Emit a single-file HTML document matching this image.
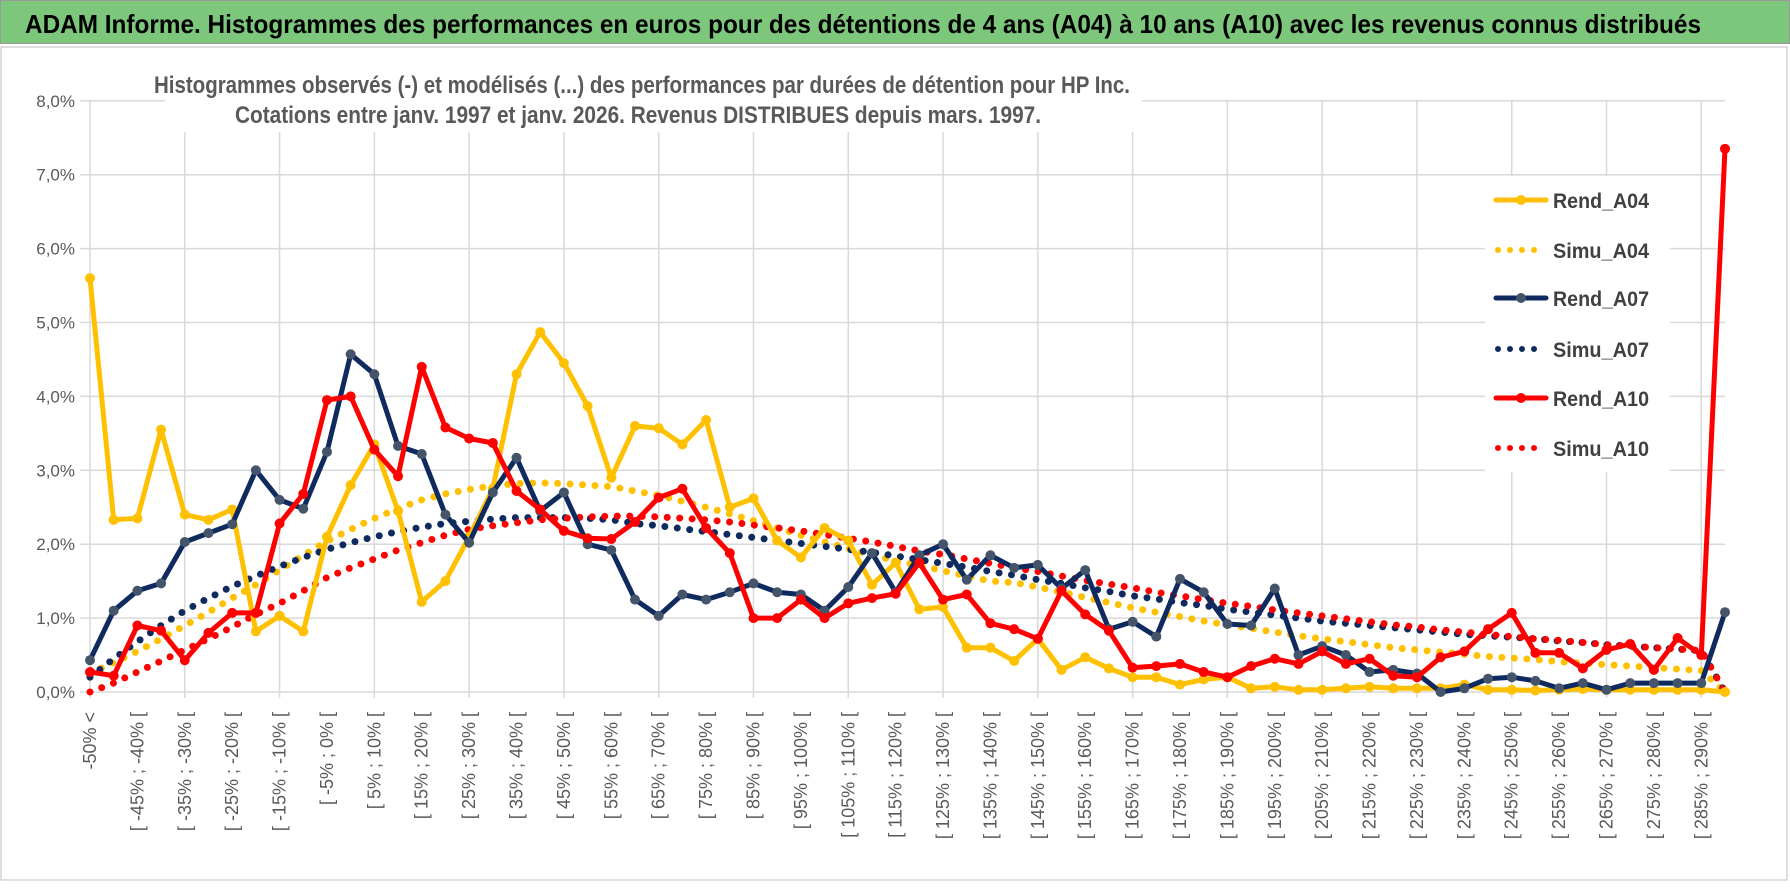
<!DOCTYPE html>
<html><head><meta charset="utf-8"><style>
html,body{margin:0;padding:0;background:#fff;}
svg{display:block;font-family:"Liberation Sans",sans-serif;}
</style></head><body>
<svg id="chart" width="1790" height="888" viewBox="0 0 1790 888">
<rect x="0" y="0" width="1790" height="888" fill="#fff"/>
<rect x="0.5" y="0.5" width="1789" height="43" fill="#7dc77d" stroke="#999"/>
<text x="25" y="33" font-size="26" font-weight="bold" fill="#000" textLength="1676" lengthAdjust="spacingAndGlyphs">ADAM Informe. Histogrammes des performances en euros pour des détentions de 4 ans (A04) à 10 ans (A10) avec les revenus connus distribués</text>
<rect x="1" y="47" width="1786" height="833" fill="none" stroke="#bfbfbf"/>
<g id="grid"></g>
<g id="yaxis"></g>
<g id="xaxis"></g>
<rect x="165" y="66" width="977" height="66" fill="#fff"/>
<text x="154" y="93" font-size="24" font-weight="bold" fill="#595959" textLength="976" lengthAdjust="spacingAndGlyphs">Histogrammes observés (-) et modélisés (...) des performances par durées de détention pour HP Inc.</text>
<text x="235" y="123" font-size="24" font-weight="bold" fill="#595959" textLength="806" lengthAdjust="spacingAndGlyphs">Cotations entre janv. 1997 et janv. 2026. Revenus DISTRIBUES depuis mars. 1997.</text>
<g id="series"></g>
<g id="legend"></g>
</svg>
<script>
const simuA04 = [0.25,0.4,0.55,0.72,0.9,1.08,1.27,1.45,1.65,1.85,2.04,2.2,2.35,2.48,2.6,2.68,2.74,2.79,2.82,2.83,2.82,2.8,2.78,2.72,2.66,2.58,2.5,2.41,2.32,2.22,2.12,2.03,1.94,1.85,1.78,1.71,1.64,1.57,1.5,1.48,1.42,1.35,1.28,1.21,1.14,1.08,1.02,0.96,0.91,0.86,0.81,0.76,0.72,0.68,0.64,0.6,0.57,0.54,0.51,0.48,0.46,0.44,0.41,0.39,0.37,0.35,0.33,0.31,0.29,0];
const rendA04 = [5.6,2.33,2.35,3.55,2.4,2.33,2.47,0.82,1.03,0.82,2.1,2.8,3.35,2.45,1.22,1.5,2.1,2.75,4.3,4.87,4.45,3.87,2.9,3.6,3.57,3.35,3.68,2.5,2.62,2.05,1.82,2.22,2.05,1.45,1.75,1.12,1.15,0.6,0.6,0.42,0.72,0.3,0.47,0.32,0.2,0.2,0.1,0.17,0.2,0.05,0.07,0.03,0.03,0.05,0.07,0.05,0.05,0.05,0.1,0.03,0.03,0.02,0.03,0.04,0.03,0.03,0.03,0.03,0.03,0];
const rendA07 = [0.43,1.1,1.37,1.47,2.03,2.15,2.27,3.0,2.6,2.48,3.25,4.57,4.3,3.33,3.22,2.4,2.02,2.7,3.17,2.45,2.7,2.0,1.92,1.25,1.03,1.32,1.25,1.35,1.47,1.35,1.32,1.1,1.42,1.88,1.35,1.85,2.0,1.52,1.85,1.68,1.72,1.4,1.65,0.85,0.95,0.75,1.53,1.35,0.92,0.9,1.4,0.5,0.62,0.5,0.27,0.3,0.25,0.0,0.05,0.18,0.2,0.15,0.05,0.12,0.03,0.12,0.12,0.12,0.12,1.08];
const simuA07 = [0.2,0.45,0.68,0.9,1.1,1.27,1.43,1.57,1.7,1.82,1.93,2.02,2.1,2.17,2.23,2.28,2.31,2.34,2.36,2.36,2.36,2.35,2.33,2.28,2.25,2.21,2.17,2.13,2.09,2.05,2.01,1.97,1.93,1.89,1.84,1.79,1.74,1.69,1.63,1.58,1.52,1.47,1.41,1.36,1.3,1.26,1.21,1.17,1.12,1.08,1.04,1.0,0.96,0.93,0.9,0.87,0.84,0.81,0.78,0.76,0.74,0.72,0.69,0.67,0.64,0.62,0.6,0.58,0.56,0];
const rendA10 = [0.27,0.22,0.9,0.83,0.43,0.8,1.07,1.07,2.28,2.68,3.95,4.0,3.28,2.92,4.4,3.58,3.43,3.37,2.72,2.47,2.18,2.08,2.07,2.3,2.63,2.75,2.22,1.88,1.0,1.0,1.25,1.0,1.2,1.27,1.33,1.75,1.25,1.32,0.93,0.85,0.72,1.37,1.05,0.83,0.33,0.35,0.38,0.27,0.2,0.35,0.45,0.38,0.55,0.38,0.45,0.22,0.2,0.47,0.55,0.85,1.07,0.53,0.53,0.32,0.57,0.65,0.3,0.73,0.5,7.35];
const simuA10 = [0.0,0.12,0.27,0.42,0.57,0.72,0.88,1.05,1.2,1.37,1.55,1.68,1.8,1.92,2.02,2.12,2.2,2.25,2.29,2.33,2.35,2.37,2.38,2.38,2.37,2.35,2.33,2.3,2.26,2.22,2.18,2.13,2.08,2.03,1.97,1.91,1.86,1.8,1.74,1.68,1.63,1.57,1.51,1.46,1.41,1.35,1.3,1.25,1.2,1.16,1.11,1.07,1.03,0.99,0.95,0.91,0.88,0.84,0.81,0.78,0.75,0.72,0.7,0.67,0.64,0.62,0.6,0.58,0.56,0];
const yTicks = [0,1,2,3,4,5,6,7,8];
const seriesNames = ["Rend_A04","Simu_A04","Rend_A07","Simu_A07","Rend_A10","Simu_A10"];

const NS = "http://www.w3.org/2000/svg";
const N = rendA04.length;
const X0 = 90, X1 = 1725, Y0 = 692, PXPCT = 73.9;
function xs(i){ return X0 + i * (X1 - X0) / (N - 1); }
function ys(v){ return Y0 - v * PXPCT; }
function catLabel(i){
  if (i === 0) return "-50% <";
  const a = -55 + 5*i;
  return "[ " + a + "% ; " + (a+5) + "% [";
}
function mk(tag, attrs, parent){
  const e = document.createElementNS(NS, tag);
  for (const k in attrs) e.setAttribute(k, attrs[k]);
  parent.appendChild(e);
  return e;
}
const grid = document.getElementById('grid');
const yaxis = document.getElementById('yaxis');
const xaxis = document.getElementById('xaxis');
yTicks.forEach(t => {
  const l = mk('line', {x1: 80, x2: X1, y1: ys(t), y2: ys(t), stroke: '#d9d9d9', 'stroke-width': 1.5}, grid);
  
  
  const tx = mk('text', {x: 75, y: ys(t) + 6, 'text-anchor': 'end', 'font-size': 17, fill: '#595959'}, yaxis);
  tx.textContent = t.toFixed(1).replace('.', ',') + '%';
  
  
});
for (let i = 0; i < N; i++) {
  if (i % 4 === 0) {
    const l = mk('line', {x1: xs(i), x2: xs(i), y1: ys(8), y2: Y0 + 6, stroke: '#d9d9d9', 'stroke-width': 1.5}, grid);
    
    
  }
  if (i % 2 === 0) {
    const tx = mk('text', {x: 0, y: 0, 'text-anchor': 'end', 'font-size': 18, fill: '#595959',
      transform: 'translate(' + (xs(i) + 6) + ',712) rotate(-90)'}, xaxis);
    tx.textContent = catLabel(i);
    
    
  }
}
const series = document.getElementById('series');
function pts(arr){ return arr.map((v,i) => xs(i).toFixed(1) + ',' + ys(v).toFixed(1)).join(' '); }
function dotted(arr, color, name){
  const p = mk('polyline', {points: pts(arr), fill: 'none', stroke: color, 'stroke-width': 7, 'stroke-linecap': 'round', 'stroke-dasharray': '0 12.5'}, series);
  
  
}
function solid(arr, color, mcolor, name){
  const g = mk('g', {}, series);
  
  
  const p = mk('polyline', {points: pts(arr), fill: 'none', stroke: color, 'stroke-width': 5, 'stroke-linejoin': 'round'}, g);
  
  
  arr.forEach((v,i) => {
    const c = mk('circle', {cx: xs(i), cy: ys(v), r: 5, fill: mcolor}, g);
    
    
  });
}
dotted(simuA04, '#ffc000', 'simu-a04-line');
dotted(simuA07, '#0e2a5f', 'simu-a07-line');
dotted(simuA10, '#ff0000', 'simu-a10-line');
solid(rendA04, '#ffc000', '#ffc000', 'rend-a04');
solid(rendA07, '#0e2a5f', '#44546a', 'rend-a07');
solid(rendA10, '#ff0000', '#ff0000', 'rend-a10');

const legend = document.getElementById('legend');
const lb = mk('rect', {x: 1485, y: 176, width: 185, height: 296, fill: '#fff'}, legend);


const lcol = ['#ffc000','#ffc000','#0e2a5f','#0e2a5f','#ff0000','#ff0000'];
const lmark = ['#ffc000',null,'#44546a',null,'#ff0000',null];
const ly = [200,250,298,349,398,448];
seriesNames.forEach((nm, k) => {
  const g = mk('g', {}, legend);
  
  
  if (lmark[k]) {
    mk('line', {x1: 1496, x2: 1546, y1: ly[k], y2: ly[k], stroke: lcol[k], 'stroke-width': 5, 'stroke-linecap': 'round'}, g);
    mk('circle', {cx: 1521, cy: ly[k], r: 5, fill: lmark[k]}, g);
  } else {
    mk('line', {x1: 1498, x2: 1540, y1: ly[k], y2: ly[k], stroke: lcol[k], 'stroke-width': 6, 'stroke-linecap': 'round', 'stroke-dasharray': '0 12'}, g);
  }
  const t = mk('text', {x: 1553, y: ly[k] + 8, 'font-size': 21, 'font-weight': 'bold', fill: '#404040', textLength: 96, lengthAdjust: 'spacingAndGlyphs'}, g);
  t.textContent = nm;
});
</script>
</body></html>
